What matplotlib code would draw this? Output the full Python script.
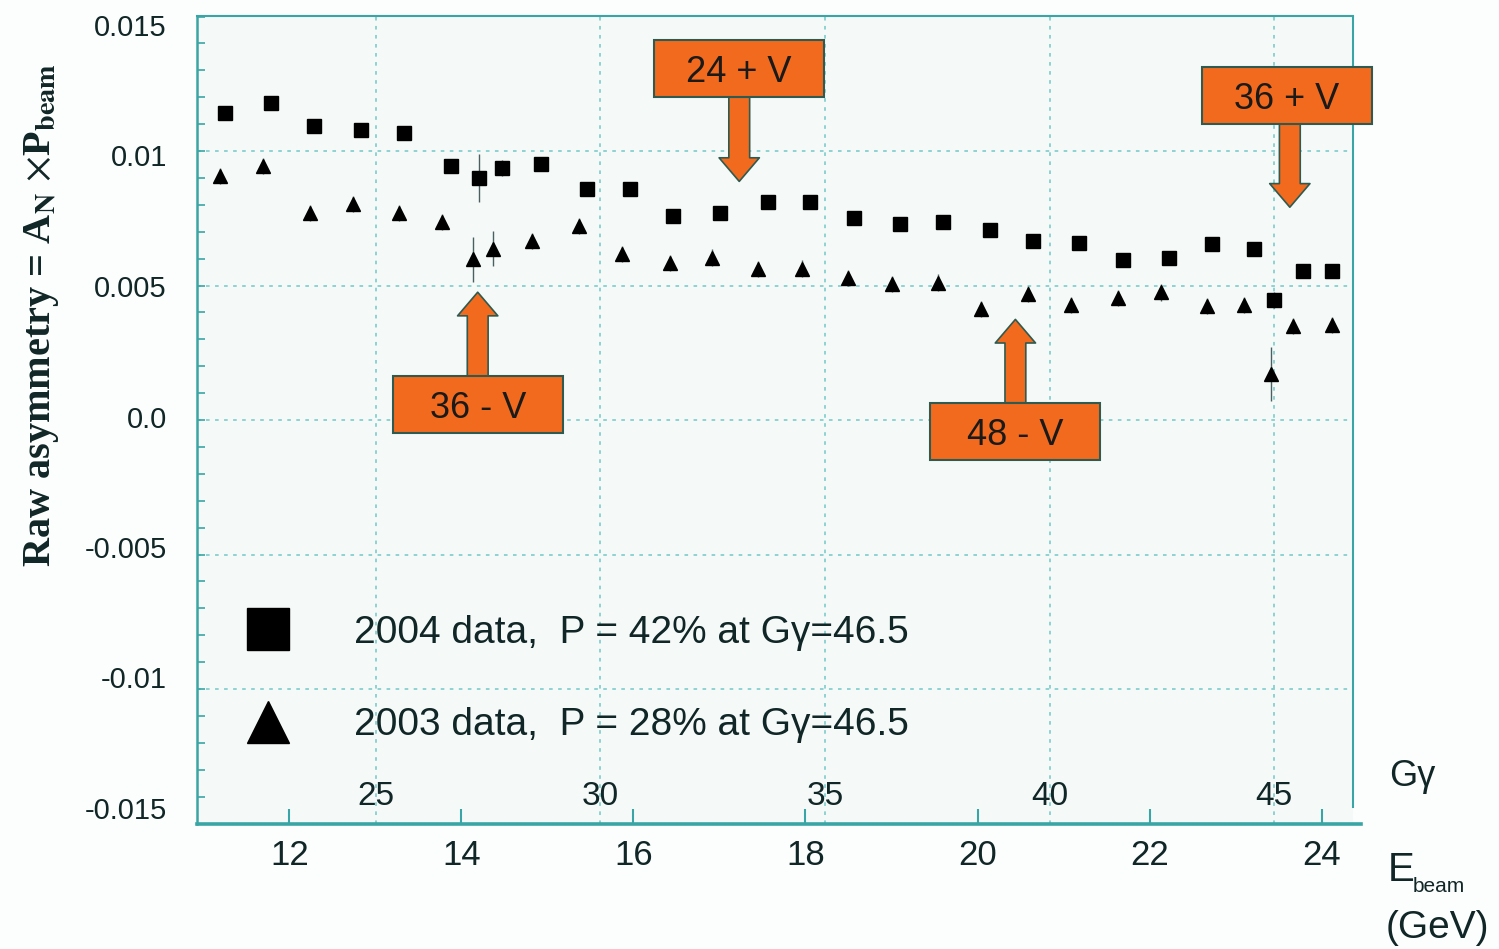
import numpy as np
import matplotlib
matplotlib.use("Agg")
import matplotlib.pyplot as plt
from matplotlib.lines import Line2D
from matplotlib.patches import Rectangle

# ---------------- data ----------------
e_2004 = [11.25, 11.79, 12.29, 12.83, 13.33, 13.88, 14.20, 14.47, 14.92, 15.46,
          15.96, 16.46, 17.01, 17.56, 18.05, 18.56, 19.10, 19.60, 20.14, 20.65,
          21.18, 21.69, 22.23, 22.73, 23.21, 23.45, 23.78, 24.12]
a_2004 = [0.01143, 0.01177, 0.01094, 0.01078, 0.01068, 0.00944, 0.00899, 0.00937,
          0.00952, 0.00860, 0.00858, 0.00758, 0.00771, 0.00812, 0.00810, 0.00752,
          0.00728, 0.00736, 0.00705, 0.00665, 0.00657, 0.00595, 0.00601, 0.00653,
          0.00635, 0.00446, 0.00554, 0.00554]
err_2004 = [0.0002, 0.0002, 0.0002, 0.0002, 0.0002, 0.0002, 0.0009, 0.0003,
            0.0002, 0.0002, 0.0002, 0.0002, 0.0002, 0.0002, 0.0002, 0.0002,
            0.0002, 0.0002, 0.0002, 0.0002, 0.0002, 0.0002, 0.0002, 0.0002,
            0.0002, 0.0003, 0.0002, 0.0002]

e_2003 = [11.20, 11.70, 12.24, 12.74, 13.28, 13.78, 14.13, 14.37, 14.82, 15.37,
          15.87, 16.42, 16.91, 17.45, 17.96, 18.50, 19.00, 19.54, 20.04, 20.59,
          21.09, 21.63, 22.13, 22.67, 23.10, 23.41, 23.67, 24.12]
a_2003 = [0.00907, 0.00944, 0.00771, 0.00802, 0.00768, 0.00736, 0.00597, 0.00637,
          0.00665, 0.00721, 0.00616, 0.00585, 0.00604, 0.00560, 0.00563, 0.00527,
          0.00505, 0.00511, 0.00414, 0.00469, 0.00426, 0.00452, 0.00474, 0.00424,
          0.00426, 0.00170, 0.00349, 0.00352]
err_2003 = [0.0003, 0.0003, 0.0003, 0.0003, 0.0003, 0.0003, 0.00084, 0.00065,
            0.0003, 0.0003, 0.0003, 0.0003, 0.0003, 0.0003, 0.0003, 0.0003,
            0.0003, 0.0003, 0.0003, 0.0003, 0.0003, 0.0003, 0.0003, 0.0003,
            0.0003, 0.0010, 0.0003, 0.0003]

legend_labels = ["2004 data,  P = 42% at G\u03b3=46.5",
                 "2003 data,  P = 28% at G\u03b3=46.5"]

y_ticks = [-0.015, -0.01, -0.005, 0.0, 0.005, 0.01, 0.015]
y_tick_labels = ["-0.015", "-0.01", "-0.005", "0.0", "0.005", "0.01", "0.015"]
e_ticks = [12, 14, 16, 18, 20, 22, 24]
ggamma_ticks = [25, 30, 35, 40, 45]

# resonance annotations: label, arrow x (E_beam), arrow tip (asymmetry), box centre
res_labels = ["24 + V", "36 + V", "36 - V", "48 - V"]
res_e = [17.23, 23.63, 14.19, 20.44]
res_tip = [0.00887, 0.00791, 0.00475, 0.00374]
res_box_y = [0.01306, 0.01207, 0.00058, -0.00042]

# ---------------- styling ----------------
TEAL = "#3aa5a5"
GRID = "#86cfcf"
TXT = "#112626"
ORANGE = "#f26a1e"
EDGE = "#2f5a50"

def e_to_gg(e):
    return 1.9152 * np.asarray(e) + 0.094

def gg_to_e(g):
    return (np.asarray(g) - 0.094) / 1.9152

W, H = 1499, 949
fig = plt.figure(figsize=(W / 100, H / 100), dpi=100, facecolor="#fcfefd")

def fx(px):
    return px / W

def fy(py):
    return 1 - py / H

ax_l, ax_r, ax_t, ax_b = 196.7, 1353.0, 16.5, 823.5
ax = fig.add_axes([fx(ax_l), fy(ax_b), fx(ax_r - ax_l), (ax_b - ax_t) / H])
ax.set_facecolor("#f5faf8")

# x scale: 12 GeV at px 289.3, 86.03 px / GeV
pxg = 86.03
x0 = 12 - (289.3 - ax_l) / pxg
x1 = 12 + (ax_r - 289.3) / pxg
ax.set_xlim(x0, x1)
ax.set_ylim(-0.015, 0.015)
py_per_unit = (ax_b - ax_t) / 0.030

# grid
for v in y_ticks[1:-1]:
    ax.axhline(v, color=GRID, lw=1.3, ls=(0, (2, 3)), zorder=1)
for g in ggamma_ticks:
    ax.axvline(gg_to_e(g), color=GRID, lw=1.3, ls=(0, (2, 3)), zorder=1)

# data
ax.errorbar(e_2004, a_2004, yerr=err_2004, fmt="s", color="black", ms=9.8,
            elinewidth=1.0, ecolor="#4a6060", capsize=0, zorder=4)
ax.errorbar(e_2003, a_2003, yerr=err_2003, fmt="^", color="black", ms=9.5,
            elinewidth=1.0, ecolor="#4a6060", capsize=0, zorder=4)

# spines & ticks
for s in ["left", "top", "right", "bottom"]:
    ax.spines[s].set_color(TEAL)
ax.spines["left"].set_linewidth(1.8)
ax.spines["top"].set_linewidth(1.5)
ax.spines["right"].set_linewidth(1.5)
ax.spines["bottom"].set_linewidth(2.6)
ax.spines["right"].set_bounds(-0.015 + (ax_b - 807) / py_per_unit, 0.015)
ax.spines["bottom"].set_bounds(x0, 12 + (1361 - 289.3) / pxg)

ax.set_yticks(y_ticks)
ax.set_yticks(np.arange(-0.015, 0.0151, 0.001), minor=True)
ax.tick_params(axis="y", which="both", direction="in", length=6, width=1.2,
               color=TEAL, labelleft=False)
ax.set_xticks(e_ticks)
ax.set_xticklabels([str(t) for t in e_ticks])
ax.tick_params(axis="x", which="major", direction="in", length=11, width=1.5,
               color=TEAL, labelsize=25, labelcolor=TXT, pad=11)
for lab in ax.get_xticklabels():
    lab.set_family("Liberation Sans")

# y tick labels on an invisible helper axes (labels sit slightly off the grid)
lab_top, lab_bot = 25, 808
axl = fig.add_axes([fx(ax_l), fy(lab_bot), 0.001, (lab_bot - lab_top) / H])
axl.set_ylim(-0.015, 0.015)
axl.set_yticks(y_ticks)
axl.set_yticklabels(y_tick_labels)
axl.tick_params(axis="y", length=0, pad=21.5, labelsize=21, labelcolor=TXT)
axl.set_xticks([])
for s in axl.spines.values():
    s.set_visible(False)
axl.patch.set_visible(False)
for lab in axl.get_yticklabels():
    lab.set_family("Liberation Sans")

# G gamma labels inside the plot
for g in ggamma_ticks:
    ax.text(gg_to_e(g), 0.033, str(g), transform=ax.get_xaxis_transform(),
            ha="center", va="center", fontsize=24, color=TXT,
            family="Liberation Sans", zorder=5)

fig.text(fx(1389), fy(777), "G\u03b3", ha="left", va="center", fontsize=26,
         color=TXT, family="Liberation Sans")
fig.text(fx(1388), fy(870), "E", ha="left", va="center", fontsize=29,
         color=TXT, family="Liberation Sans")
fig.text(fx(1413), fy(887), "beam", ha="left", va="center", fontsize=15,
         color=TXT, family="Liberation Sans")
fig.text(fx(1386), fy(928), "(GeV)", ha="left", va="center", fontsize=28,
         color=TXT, family="Liberation Sans")

# y label
ax.set_ylabel(r"Raw asymmetry = A$_{\mathbf{N}}$ $\times$P$_{\mathbf{beam}}$",
              fontsize=29, fontweight="bold", family="Liberation Serif",
              color=TXT, math_fontfamily="stix", va="center", ha="center")
ax.yaxis.set_label_coords((42 - ax_l) / (ax_r - ax_l), (ax_b - 315) / (ax_b - ax_t))

# legend
handles = [Line2D([], [], ls="", marker="s", color="black", ms=30),
           Line2D([], [], ls="", marker="^", color="black", ms=30)]
leg = ax.legend(handles, legend_labels, loc="upper left", frameon=False,
                bbox_to_anchor=((239 - ax_l) / (ax_r - ax_l), (ax_b - 615) / (ax_b - ax_t)),
                borderaxespad=0, borderpad=0, handlelength=1.5, handletextpad=1.45,
                labelspacing=1.45, prop={"family": "Liberation Sans", "size": 28})
for t in leg.get_texts():
    t.set_color(TXT)

# resonance boxes and arrows
box_w = 170 / pxg
box_h = 57 / py_per_unit
for lab, xe, tip, cy in zip(res_labels, res_e, res_tip, res_box_y):
    cx = xe - 3 / pxg if lab == "36 + V" else xe
    base = cy - box_h / 2 if tip < cy else cy + box_h / 2
    ax.annotate("", xy=(xe, tip), xytext=(xe, base),
                arrowprops=dict(arrowstyle="simple,head_length=17,head_width=29,tail_width=15",
                                mutation_scale=1, fc=ORANGE, ec=EDGE, lw=1.2,
                                shrinkA=0, shrinkB=0),
                zorder=6, annotation_clip=False)
    ax.add_patch(Rectangle((cx - box_w / 2, cy - box_h / 2), box_w, box_h,
                           fc=ORANGE, ec=EDGE, lw=1.5, zorder=7, clip_on=False))
    ax.text(cx, cy, lab, ha="center", va="center_baseline", fontsize=26, color="#1a1a1a",
            family="Liberation Sans", zorder=8, clip_on=False)

fig.savefig("out.png", dpi=100, facecolor=fig.get_facecolor())
